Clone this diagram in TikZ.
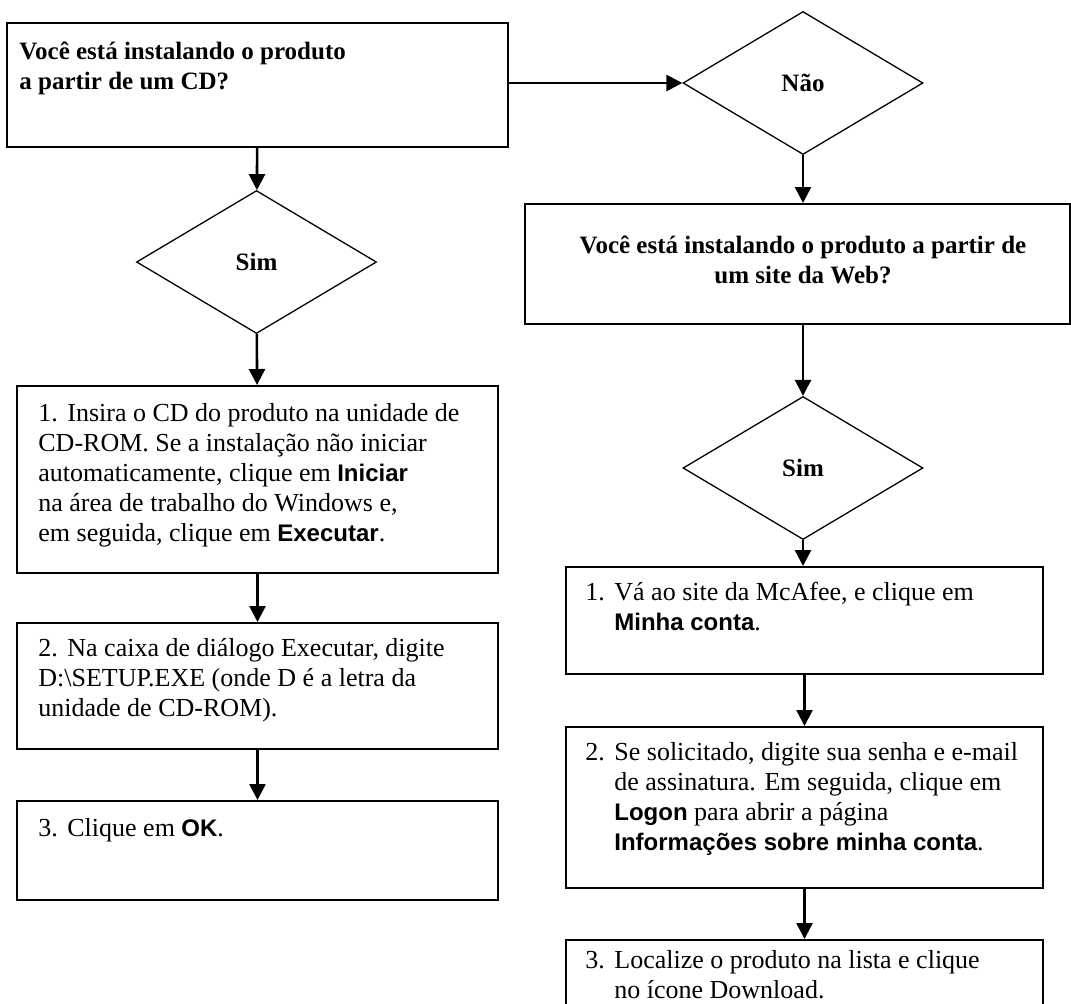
\documentclass[tikz,border=0pt]{standalone}
\usepackage{fontspec}
\usepackage{tikz}
\usetikzlibrary{shapes.geometric,arrows.meta}
\setmainfont{Liberation Serif}
\newfontfamily\arialfont{Liberation Sans}
\newcommand{\btn}[1]{{\arialfont\bfseries\fontsize{12}{15}\selectfont #1}}

\begin{document}
\begin{tikzpicture}[x=0.5pt,y=-0.5pt,>={Triangle[length=8pt,width=8pt]},
    box/.style={draw,line width=1pt,anchor=north west,inner sep=0pt},
    txt/.style={anchor=north west,inner sep=0pt,align=left,font=\fontsize{13}{15}\selectfont},
    ttl/.style={inner sep=0pt,font=\fontsize{12.5}{15}\selectfont\bfseries},
    dec/.style={draw,diamond,line width=0.65pt,minimum width=120pt,minimum height=71.5pt,inner sep=0pt,font=\fontsize{12.5}{15}\selectfont\bfseries},
    flow/.style={->,line width=1.3pt}]
    \useasboundingbox (0,0) rectangle (1071,1003);
    % left column
    \node[box,minimum width=250.5pt,minimum height=62pt] (cd) at (6,22) {};
    \node[ttl,anchor=north west,align=left] (cdT) at (19,41) {Você está instalando o produto\\a partir de um CD?};
    \node[dec] (simL) at (256.5,262) {Sim};
    \node[box,minimum width=240.5pt,minimum height=93.5pt] (l1) at (16,385) {};
    \node[txt] (l1T) at (38,403) {\makebox[14.5pt][l]{1.}Insira o CD do produto na unidade de\\CD-ROM. Se a instalação não iniciar\\automaticamente, clique em \btn{Iniciar}\\na área de trabalho do Windows e,\\em seguida, clique em \btn{Executar}.};
    \node[box,minimum width=240.5pt,minimum height=63pt] (l2) at (16,622) {};
    \node[txt] (l2T) at (38,638) {\makebox[14.5pt][l]{2.}Na caixa de diálogo Executar, digite\\D:\textbackslash SETUP.EXE (onde D é a letra da\\unidade de CD-ROM).};
    \node[box,minimum width=240.5pt,minimum height=49.5pt] (l3) at (16,800) {};
    \node[txt] (l3T) at (38,818) {\makebox[14.5pt][l]{3.}Clique em \btn{OK}.};
    % right column
    \node[dec] (nao) at (803,83) {Não};
    \node[box,minimum width=272.5pt,minimum height=60pt] (web) at (524,203) {};
    \node[ttl,align=center] (webT) at (803,260) {Você está instalando o produto a partir de\\um site da Web?};
    \node[dec] (simR) at (803,468) {Sim};
    \node[box,minimum width=238.5pt,minimum height=53.5pt] (r1) at (565,566) {};
    \node[txt] (r1T) at (585,579) {\begin{tabular}{@{}p{14.5pt}@{}l@{}}1. & Vá ao site da McAfee, e clique em\\ & \btn{Minha conta}.\end{tabular}};
    \node[box,minimum width=238.5pt,minimum height=80.5pt] (r2) at (565,726) {};
    \node[txt] (r2T) at (585,739) {\begin{tabular}{@{}p{14.5pt}@{}l@{}}2. & Se solicitado, digite sua senha e e-mail\\ & de assinatura. Em seguida, clique em\\ & \btn{Logon} para abrir a página\\ & \btn{Informações sobre minha conta}.\end{tabular}};
    \node[box,minimum width=238.5pt,minimum height=40pt] (r3) at (565,939) {};
    \node[txt] (r3T) at (585,947) {\begin{tabular}{@{}p{14.5pt}@{}l@{}}3. & Localize o produto na lista e clique\\ & no ícone Download.\end{tabular}};
    % connectors
    \draw[flow] (cd) -- (simL);
    \draw[flow] (simL) -- (l1);
    \draw[flow] (l1) -- (l2);
    \draw[flow] (l2) -- (l3);
    \draw[flow] (nao.west -| cd.east) -- (nao.west);
    \draw[flow] (nao.south) -- (nao.south |- web.north);
    \draw[flow] (web.south -| simR.north) -- (simR.north);
    \draw[flow] (simR.south) -- (simR.south |- r1.north);
    \draw[flow] (r1) -- (r2);
    \draw[flow] (r2) -- (r3);
\end{tikzpicture}
\end{document}
